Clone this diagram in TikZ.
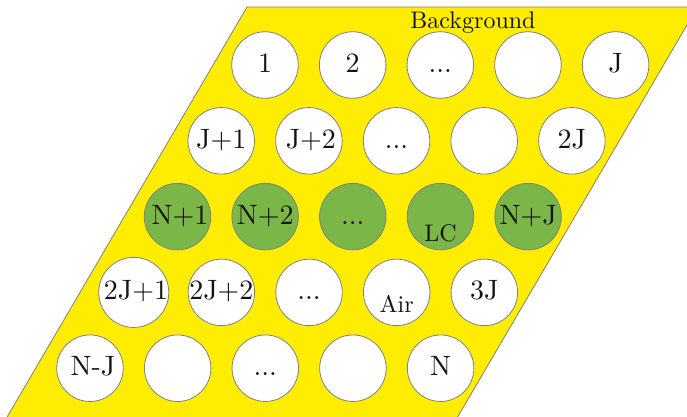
\documentclass[tikz,border=0pt]{standalone}
\usepackage{fontspec}
\newfontfamily\lmten{lmroman10-regular.otf}
\definecolor{bgyellow}{RGB}{255,237,0}
\definecolor{lcgreen}{RGB}{122,182,72}
\definecolor{edgegray}{RGB}{128,128,128}
\definecolor{txt}{RGB}{20,20,20}
\tikzset{
  cell/.style={circle, draw=edgegray, line width=0.8pt, fill=white,
    minimum size=66.5pt, inner sep=0pt, text height=15pt, text depth=0pt,
    font=\lmten\fontsize{28}{28}\selectfont, text=txt},
  lccell/.style={cell, fill=lcgreen},
  smalltext/.style={font=\lmten\fontsize{24}{24}\selectfont, text=txt, inner sep=0pt, anchor=base}
}
\begin{document}
\begin{tikzpicture}[x=1pt,y=-1pt]
\useasboundingbox (0,0) rectangle (687,416);
\clip (0,0) rectangle (687,416);
\draw[draw=edgegray, fill=bgyellow, line width=0.8pt]
  (247,7) -- (697.5,7) -- (450,430) -- (-0.5,430) -- cycle;
\node[smalltext] (bg) at (473,28.3) {Background};
% row 1
\node[cell] (c11) at (265,65) {1};
\node[cell] (c12) at (352.65,65) {2};
\node[cell] (c13) at (440.3,65) {...};
\node[cell] (c14) at (527.95,65) {};
\node[cell] (c15) at (615.6,65) {J};
% row 2
\node[cell] (c21) at (221.25,140.8) {J+1};
\node[cell] (c22) at (308.9,140.8) {\hspace*{4pt}J+2};
\node[cell] (c23) at (396.55,140.8) {...};
\node[cell] (c24) at (484.2,140.8) {};
\node[cell] (c25) at (571.85,140.8) {2J};
% row 3
\node[lccell] (c31) at (177.5,216.6) {\hspace*{5pt}N+1};
\node[lccell] (c32) at (265.15,216.6) {N+2};
\node[lccell] (c33) at (352.8,216.6) {...};
\node[lccell] (c34) at (440.45,216.6) {};
\node[lccell] (c35) at (528.1,216.6) {N+J};
\node[smalltext] (lc) at ([yshift=-25pt]c34.center) {LC};
% row 4
\node[cell] (c41) at (133.75,292.4) {\hspace*{4.5pt}2J+1};
\node[cell] (c42) at (221.4,292.4) {2J+2};
\node[cell] (c43) at (309.05,292.4) {...};
\node[cell] (c44) at (396.7,292.4) {};
\node[cell] (c45) at (484.35,292.4) {3J};
\node[smalltext] (air) at ([yshift=-20pt]c44.center) {Air};
% row 5
\node[cell] (c51) at (90,368.2) {\hspace*{6pt}N-J};
\node[cell] (c52) at (177.65,368.2) {};
\node[cell] (c53) at (265.3,368.2) {...};
\node[cell] (c54) at (352.95,368.2) {};
\node[cell] (c55) at (440.6,368.2) {N};
\end{tikzpicture}
\end{document}
